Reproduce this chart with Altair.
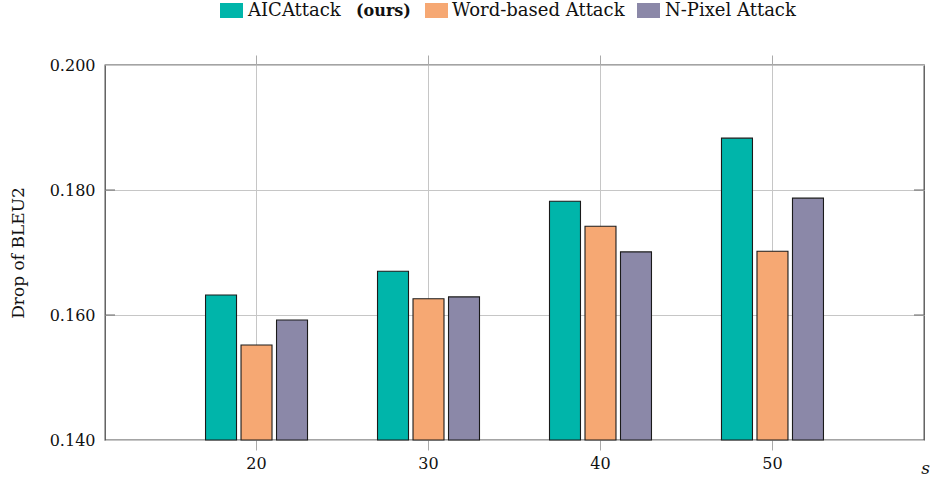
import altair as alt
import pandas as pd

# Values of the BLEU2 drop for each attack at every perturbation size s
sizes = ["20", "30", "40", "50"]
methods = ["AICAttack (ours)", "Word-based Attack", "N-Pixel Attack"]
aic_attack = [0.1632, 0.1670, 0.1782, 0.1883]
word_attack = [0.1552, 0.1626, 0.1742, 0.1702]
npixel_attack = [0.1592, 0.1629, 0.1701, 0.1787]
colors = ["#00b5aa", "#f6a873", "#8b88a8"]
y_ticks = [0.14, 0.16, 0.18, 0.20]
y_min, y_max = 0.14, 0.20

rows = []
for name, vals in zip(methods, [aic_attack, word_attack, npixel_attack]):
    for s, v in zip(sizes, vals):
        rows.append({"s": s, "method": name, "value": v})
df = pd.DataFrame(rows)

FONT = "DejaVu Serif"
W, H = 819, 375

x_scale = alt.Scale(type="band", paddingInner=0, paddingOuter=0.381)
y_scale = alt.Scale(domain=[y_min, y_max], nice=False, zero=False)

bars = alt.Chart(df).mark_bar(stroke="#1a1a1a", strokeWidth=1.1).encode(
    x=alt.X("s:N", sort=sizes, scale=x_scale,
            axis=alt.Axis(orient="bottom", title="s", titleFontStyle="italic",
                          titleFont=FONT, titleFontSize=17, titleFontWeight="normal",
                          titleX=820, titleY=33, titleAlign="center",
                          titleBaseline="alphabetic", titleColor="#111",
                          labelAngle=0, labelFont=FONT, labelFontSize=16,
                          labelColor="#111", labelPadding=5,
                          tickSize=10, tickColor="#aaaaaa", tickWidth=1,
                          domain=False, grid=True, gridColor="#c6c6c6",
                          gridWidth=1)),
    xOffset=alt.XOffset("method:N", sort=methods,
                        scale=alt.Scale(paddingInner=0.127, paddingOuter=0.986)),
    y=alt.Y("value:Q", scale=y_scale,
            axis=alt.Axis(values=y_ticks, format=".3f", title="Drop of BLEU2",
                          titleFont=FONT, titleFontSize=17, titleFontWeight="normal",
                          titleColor="#111", titleX=-87, titleY=H / 2,
                          titleAlign="center", titleBaseline="middle",
                          labelFont=FONT, labelFontSize=16, labelColor="#111",
                          labelPadding=10, ticks=False, domain=False,
                          grid=True, gridColor="#c6c6c6", gridWidth=1)),
    y2=alt.datum(y_min),
    color=alt.Color("method:N", scale=alt.Scale(domain=methods, range=colors),
                    legend=None),
)

# tick marks along the top edge
top_ticks = alt.Chart(df).mark_point(opacity=0).encode(
    x=alt.X("s:N", sort=sizes, scale=x_scale,
            axis=alt.Axis(orient="top", labels=False, title=None, tickSize=10,
                          tickColor="#aaaaaa", domain=False, grid=False)),
)

# short inner ticks on the left and right edges
tick_df = pd.DataFrame({"t": y_ticks[1:-1]})
left_ticks = alt.Chart(tick_df).mark_rule(color="#666666", strokeWidth=1).encode(
    y=alt.Y("t:Q", scale=y_scale), x=alt.value(0), x2=alt.value(10))
right_ticks = alt.Chart(tick_df).mark_rule(color="#666666", strokeWidth=1).encode(
    y=alt.Y("t:Q", scale=y_scale), x=alt.value(W - 10), x2=alt.value(W))

# legend row above the plot
leg_y0, leg_y1 = -62, -47
legend_parts = []
for name, x0, tx in zip(methods, [115, 320, 532], [143, 347, 560]):
    c = colors[methods.index(name)]
    legend_parts.append(
        alt.Chart(pd.DataFrame({"m": [name]})).mark_rect(color=c).encode(
            x=alt.value(x0), x2=alt.value(x0 + 23),
            y=alt.value(leg_y0), y2=alt.value(leg_y1)))
    label = name.replace(" (ours)", "")
    legend_parts.append(
        alt.Chart(pd.DataFrame({"m": [label]})).mark_text(
            font=FONT, fontSize=18, align="left", baseline="alphabetic",
            color="#111").encode(
            text="m:N", x=alt.value(tx), y=alt.value(-49)))
legend_parts.append(
    alt.Chart(pd.DataFrame({"m": ["(ours)"]})).mark_text(
        font=FONT, fontSize=16, fontWeight="bold", align="left",
        baseline="alphabetic", color="#111").encode(
        text="m:N", x=alt.value(251), y=alt.value(-49)))

chart = alt.layer(bars, top_ticks, left_ticks, right_ticks, *legend_parts).resolve_axis(
    x="independent"
).properties(
    width=W, height=H,
    autosize=alt.AutoSizeParams(type="none"),
    padding={"left": 105, "top": 65, "right": 8, "bottom": 43},
    background="white",
).configure_view(stroke="#4a4a4a", strokeWidth=1.3)

chart.save("out.html", embed_options={"renderer": "svg", "actions": False})
